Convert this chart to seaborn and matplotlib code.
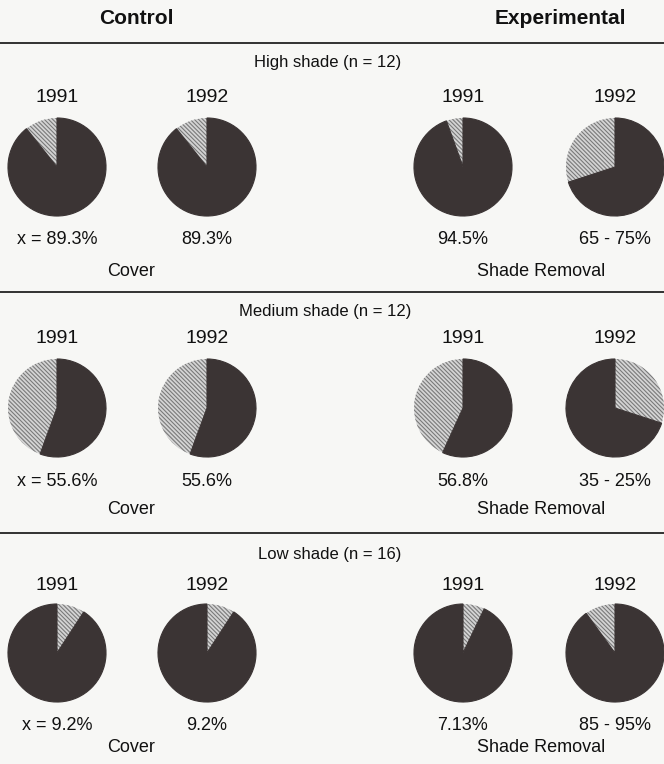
import matplotlib
matplotlib.use("Agg")
import matplotlib.pyplot as plt
import seaborn as sns

sns.set_theme(style="white")
plt.rcParams['font.family'] = ['Liberation Sans', 'DejaVu Sans']
plt.rcParams['hatch.linewidth'] = 0.8

# ---- data ----
groups = ["Control", "Experimental"]
years = ["1991", "1992"]
sections = ["High shade (n = 12)", "Medium shade (n = 12)", "Low shade (n = 16)"]
# hatched (light) share of each pie, in %: control 1991, control 1992, exp 1991, exp 1992
high_hatched = [10.7, 10.7, 5.5, 30.0]
medium_hatched = [44.4, 44.4, 43.2, 30.0]
low_hatched = [9.2, 9.2, 7.13, 10.0]
# direction of the hatched wedge from 12 o'clock
high_ccw = [True, True, True, True]
medium_ccw = [True, True, True, False]
low_ccw = [False, False, False, True]
high_labels = ["x = 89.3%", "89.3%", "94.5%", "65 - 75%"]
medium_labels = ["x = 55.6%", "55.6%", "56.8%", "35 - 25%"]
low_labels = ["x = 9.2%", "9.2%", "7.13%", "85 - 95%"]
treat_labels = ["Cover", "Shade Removal"]

hatched_all = [high_hatched, medium_hatched, low_hatched]
ccw_all = [high_ccw, medium_ccw, low_ccw]
labels_all = [high_labels, medium_labels, low_labels]

# ---- layout (pixels) ----
W, H = 664, 764
BG = "#f7f7f5"
DARK = "#3b3434"
fig = plt.figure(figsize=(W / 100, H / 100), dpi=100, facecolor=BG)

def ftext(x, y, s, **kw):
    fig.text(x / W, 1 - y / H, s, ha="center", va="center", color="#111111", **kw)

def hline(y):
    fig.add_artist(plt.Line2D([0, 1], [1 - y / H, 1 - y / H], color="#222222", lw=1.3))

pie_x = [57, 207, 463, 615]
R = 50
sec_line = [43, 292, 533]
sec_title_y = [62, 311, 555]
sec_title_x = [328, 325, 330]
year_y = [98, 339, 585]
pie_y = [167, 408, 653]
lab_y = [240, 481, 725]
treat_y = [272, 510, 748]
treat_x = [131, 541]

ftext(136, 19, groups[0], fontsize=15, fontweight="bold")
ftext(560, 19, groups[1], fontsize=15, fontweight="bold")

for si in range(3):
    hline(sec_line[si])
    ftext(sec_title_x[si], sec_title_y[si], sections[si], fontsize=12)
    for pi in range(4):
        ftext(pie_x[pi], year_y[si], years[pi % 2], fontsize=14)
        ax = fig.add_axes([(pie_x[pi] - R) / W, 1 - (pie_y[si] + R) / H, 2 * R / W, 2 * R / H])
        ax.set_facecolor("none")
        h = hatched_all[si][pi]
        wedges, _ = ax.pie([h, 100 - h], startangle=90, counterclock=ccw_all[si][pi],
                           colors=["#d4d4d4", DARK], radius=1.0,
                           wedgeprops=dict(linewidth=0))
        wedges[0].set_hatch("\\\\\\\\\\\\\\\\")
        wedges[0].set_edgecolor("#7a7a7a")
        wedges[0].set_linewidth(0)
        wedges[1].set_edgecolor(DARK)
        wedges[1].set_linewidth(0.8)
        ax.set_xlim(-1.02, 1.02)
        ax.set_ylim(-1.02, 1.02)
        ax.set_aspect("equal")
        ax.axis("off")
        ftext(pie_x[pi], lab_y[si], labels_all[si][pi], fontsize=13)
    for ti in range(2):
        ftext(treat_x[ti], treat_y[si], treat_labels[ti], fontsize=13)

fig.savefig("out.png", dpi=100, facecolor=BG)
